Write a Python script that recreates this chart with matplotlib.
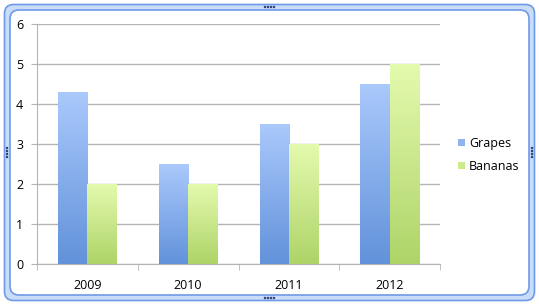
import matplotlib.pyplot as plt
import matplotlib.patches as mpatches
from matplotlib.colors import LinearSegmentedColormap
import numpy as np

years = ['2009', '2010', '2011', '2012']
grapes = [4.3, 2.5, 3.5, 4.5]
bananas = [2, 2, 3, 5]

plt.rcParams['font.family'] = ['Open Sans', 'DejaVu Sans']

fig = plt.figure(figsize=(5.39, 3.05), dpi=100)
fig.patch.set_facecolor('white')

# frame overlay in pixel coordinates
ov = fig.add_axes([0, 0, 1, 1], zorder=0)
ov.set_xlim(0, 539)
ov.set_ylim(305, 0)
ov.axis('off')
ov.add_patch(mpatches.FancyBboxPatch((4.5, 4.5), 530, 296, boxstyle='round,pad=0,rounding_size=9',
                                     facecolor='#c9dcf8', edgecolor='#6f9ae6', linewidth=1.2))
ov.add_patch(mpatches.FancyBboxPatch((10, 10), 519, 285, boxstyle='round,pad=0,rounding_size=9',
                                     facecolor='white', edgecolor='#6f9ae6', linewidth=1.2))
# little grip dots
for cx, cy, horiz in [(269, 7, True), (269, 298, True), (7, 152, False), (532, 152, False)]:
    for k in range(-3, 4, 2):
        if horiz:
            ov.add_patch(mpatches.Rectangle((cx + k * 1.5 - 0.5, cy - 0.8), 1.2, 1.2, color='#2a3f7a'))
        else:
            ov.add_patch(mpatches.Rectangle((cx - 0.8, cy + k * 1.5 - 0.5), 1.2, 1.2, color='#2a3f7a'))

ax = fig.add_axes([37 / 539, 1 - 264 / 305, 403 / 539, 240 / 305], zorder=1)
ax.set_facecolor('none')

x = np.arange(len(years))
w = 0.29
cm_g = LinearSegmentedColormap.from_list('g', ['#6292da', '#aac9fc'])
cm_b = LinearSegmentedColormap.from_list('b', ['#aed468', '#e4faae'])
grad = np.linspace(0, 1, 256).reshape(-1, 1)

bars_g = ax.bar(x - w / 2, grapes, w, color='#8fb3ef', label='Grapes', zorder=2)
bars_b = ax.bar(x + w / 2, bananas, w, color='#cdeb8b', label='Bananas', zorder=2)
for bars, cm in [(bars_g, cm_g), (bars_b, cm_b)]:
    for b in bars:
        x0 = b.get_x()
        ax.imshow(grad, cmap=cm, origin='lower', aspect='auto', zorder=3,
                  extent=(x0, x0 + b.get_width(), 0, b.get_height()))

ax.set_xlim(-0.5, 3.5)
ax.set_ylim(0, 6)
ax.set_yticks(range(7))
ax.yaxis.grid(True, color='#b5b5b5', linewidth=1)
ax.set_axisbelow(True)
ax.set_xticks(x)
ax.set_xticklabels(years)
ax.set_xticks(np.arange(-0.5, 4, 1), minor=True)
ax.tick_params(axis='x', which='major', length=0, pad=11, labelsize=9)
ax.tick_params(axis='x', which='minor', length=4, color='#b5b5b5', direction='out')
ax.tick_params(axis='y', length=4, color='#b5b5b5', pad=6, labelsize=9)
for s in ['top', 'right']:
    ax.spines[s].set_visible(False)
for s in ['left', 'bottom']:
    ax.spines[s].set_color('#b5b5b5')

ax.legend(loc='center left', bbox_to_anchor=(1.032, 0.454), frameon=False, fontsize=9,
          borderaxespad=0, handlelength=0.55, handleheight=0.55, handletextpad=0.35,
          labelspacing=0.8)

fig.savefig('out.png', dpi=100)
